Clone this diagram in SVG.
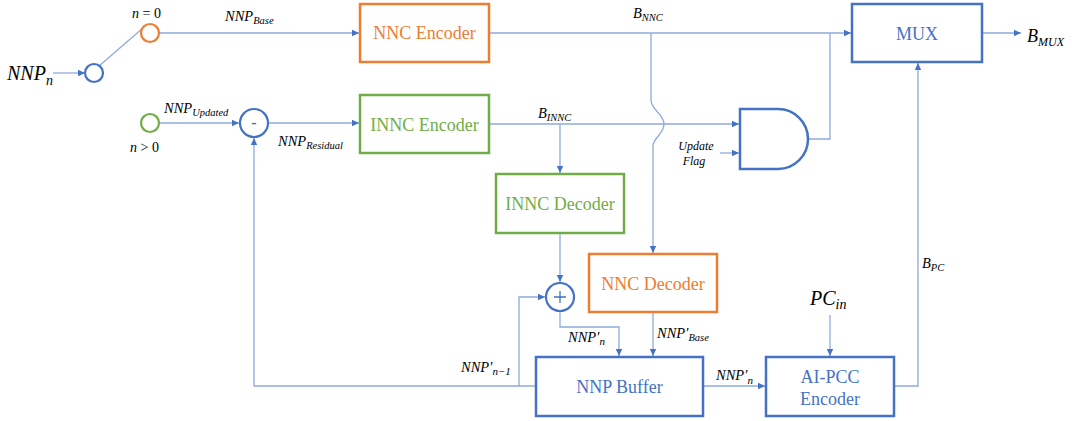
<svg xmlns="http://www.w3.org/2000/svg" width="1072" height="421" viewBox="0 0 1072 421">
<defs>
<marker id="ah" markerWidth="8" markerHeight="8" refX="7" refY="4" orient="auto" markerUnits="userSpaceOnUse">
<path d="M0,0.8 L7,4 L0,7.2 Z" fill="#4472C4"/>
</marker>
</defs>
<style>
.box{fill:#fff;stroke-width:2.5}
.blue{stroke:#4472C4}
.orange{stroke:#ED7D31}
.green{stroke:#70AD47}
.bt{font-family:"Liberation Serif","Times New Roman",serif;font-size:18px;text-anchor:middle;dominant-baseline:central}
.tb{fill:#4472C4}
.to{fill:#ED7D31}
.tg{fill:#70AD47}
.cn{fill:none;stroke:#8FAADC;stroke-width:1.3}
.lbl{font-family:"Liberation Serif","Times New Roman",serif;font-style:italic;font-size:14.5px;fill:#000}
.sub{font-size:10.5px}
.circ{fill:#fff;stroke-width:2.2}
</style>
<rect width="1072" height="421" fill="#fff"/>
<g id="connectors">
<path class="cn" d="M53,73 H85" marker-end="url(#ah)"/>
<path class="cn" d="M99,66 L143,28"/>
<path class="cn" d="M159,33 H359" marker-end="url(#ah)"/>
<path class="cn" d="M489,33 H851" marker-end="url(#ah)"/>
<path class="cn" d="M651,33 V100 C651,110 664,114 664,124 C664,134 653,138 653,146 V253" marker-end="url(#ah)"/>
<path class="cn" d="M808,139 H830 V33"/>
<path class="cn" d="M159,123 H239" marker-end="url(#ah)"/>
<path class="cn" d="M268,123 H359" marker-end="url(#ah)"/>
<path class="cn" d="M489,124 H739" marker-end="url(#ah)"/>
<path class="cn" d="M560,124 V173" marker-end="url(#ah)"/>
<path class="cn" d="M720,153 H739" marker-end="url(#ah)"/>
<path class="cn" d="M560,233 V282" marker-end="url(#ah)"/>
<path class="cn" d="M560,311 V327 H619 V356" marker-end="url(#ah)"/>
<path class="cn" d="M653,313 V356" marker-end="url(#ah)"/>
<path class="cn" d="M536,386 H254 V138" marker-end="url(#ah)"/>
<path class="cn" d="M519,386 V297 H545" marker-end="url(#ah)"/>
<path class="cn" d="M703,386 H765" marker-end="url(#ah)"/>
<path class="cn" d="M830,315 V356" marker-end="url(#ah)"/>
<path class="cn" d="M894,386 H918 V63" marker-end="url(#ah)"/>
<path class="cn" d="M982,33 H1021" marker-end="url(#ah)"/>
</g>
<g id="switch-in"><circle class="circ blue" cx="94" cy="73" r="9"/></g>
<g id="switch-base"><circle class="circ orange" cx="150" cy="33" r="9"/></g>
<g id="switch-upd"><circle class="circ green" cx="150" cy="123" r="9"/></g>
<g id="minus">
<circle class="circ blue" cx="254" cy="123" r="14"/>
<text class="bt tb" x="254" y="122" style="font-weight:bold;font-size:16px">-</text>
</g>
<g id="plus">
<circle class="circ blue" cx="560" cy="297" r="14"/>
<path d="M554,297 H566 M560,291 V303" stroke="#4472C4" stroke-width="1.3"/>
</g>
<g id="nnc-encoder">
<rect class="box orange" x="360" y="4" width="129" height="58"/>
<text class="bt to" x="424.5" y="33">NNC Encoder</text>
</g>
<g id="innc-encoder">
<rect class="box green" x="360" y="95" width="129" height="58"/>
<text class="bt tg" x="424.5" y="125">INNC Encoder</text>
</g>
<g id="innc-decoder">
<rect class="box green" x="496" y="174" width="128" height="59"/>
<text class="bt tg" x="560" y="204">INNC Decoder</text>
</g>
<g id="nnc-decoder">
<rect class="box orange" x="589" y="254" width="128" height="58"/>
<text class="bt to" x="653" y="284">NNC Decoder</text>
</g>
<g id="nnp-buffer">
<rect class="box blue" x="536" y="357" width="167" height="59"/>
<text class="bt tb" x="619.5" y="387">NNP Buffer</text>
</g>
<g id="ai-pcc">
<rect class="box blue" x="766" y="357" width="128" height="59"/>
<text class="bt tb" x="830" y="377">AI-PCC</text>
<text class="bt tb" x="830" y="399">Encoder</text>
</g>
<g id="mux">
<rect class="box blue" x="852" y="4" width="130" height="58"/>
<text class="bt tb" x="917" y="34">MUX</text>
</g>
<g id="and-gate">
<path d="M740,109 H778 A30,30 0 0 1 778,169 H740 Z" fill="#fff" stroke="#4472C4" stroke-width="2.5"/>
</g>
<g id="labels">
<text class="lbl" x="7" y="80" style="font-size:20px">NNP<tspan dy="5" style="font-size:14px">n</tspan></text>
<text class="lbl" x="132" y="18" style="font-size:14px">n<tspan font-style="normal"> = 0</tspan></text>
<text class="lbl" x="130" y="152" style="font-size:14px">n<tspan font-style="normal"> &gt; 0</tspan></text>
<text class="lbl" x="225" y="21">NNP<tspan class="sub" dy="3">Base</tspan></text>
<text class="lbl" x="164" y="113">NNP<tspan class="sub" dy="3">Updated</tspan></text>
<text class="lbl" x="278" y="146">NNP<tspan class="sub" dy="3">Residual</tspan></text>
<text class="lbl" x="633" y="18">B<tspan class="sub" dy="3">NNC</tspan></text>
<text class="lbl" x="538" y="118">B<tspan class="sub" dy="3">INNC</tspan></text>
<text class="lbl" x="696" y="150" text-anchor="middle" style="font-size:12px">Update</text>
<text class="lbl" x="694" y="165" text-anchor="middle" style="font-size:12px">Flag</text>
<text class="lbl" x="1027" y="42" style="font-size:18px">B<tspan dy="4" style="font-size:12px">MUX</tspan></text>
<text class="lbl" x="922" y="268">B<tspan class="sub" dy="3">PC</tspan></text>
<text class="lbl" x="810" y="305" style="font-size:20px">PC<tspan dy="4" style="font-size:14px">in</tspan></text>
<text class="lbl" x="568" y="342">NNP′<tspan class="sub" dy="3" style="font-size:11px">n</tspan></text>
<text class="lbl" x="657" y="338">NNP′<tspan class="sub" dy="3">Base</tspan></text>
<text class="lbl" x="461" y="372">NNP′<tspan class="sub" dy="3" style="font-size:11px">n−1</tspan></text>
<text class="lbl" x="716" y="380">NNP′<tspan class="sub" dy="4" style="font-size:11px">n</tspan></text>
</g>
</svg>
